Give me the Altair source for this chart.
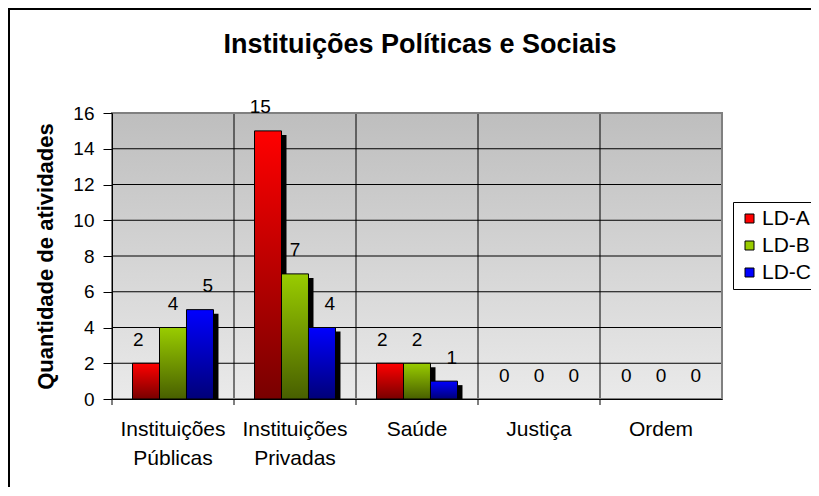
import altair as alt
import pandas as pd

# ---- data ----
categories = ["Instituições Públicas", "Instituições Privadas", "Saúde", "Justiça", "Ordem"]
series = ["LD-A", "LD-B", "LD-C"]
ld_a = [2, 15, 2, 0, 0]
ld_b = [4, 7, 2, 0, 0]
ld_c = [5, 4, 1, 0, 0]
y_ticks = [0, 2, 4, 6, 8, 10, 12, 14, 16]
title_text = "Instituições Políticas e Sociais"
y_title = "Quantidade de atividades"

rows = []
for s, vals in zip(series, [ld_a, ld_b, ld_c]):
    for c, v in zip(categories, vals):
        rows.append({"categoria": c, "serie": s, "valor": v})
df = pd.DataFrame(rows)

W, H = 610, 286
BAND = W / len(categories)
FONT = "Liberation Sans"

def grad(top, bottom):
    return alt.Gradient(gradient="linear", x1=0, x2=0, y1=0, y2=1,
                        stops=[alt.GradientStop(offset=0, color=top),
                               alt.GradientStop(offset=1, color=bottom)])

bar_grads = {
    "LD-A": grad("#FF0000", "#780000"),
    "LD-B": grad("#99CC00", "#485F00"),
    "LD-C": grad("#0000FF", "#000078"),
}
solid = ["#FF0000", "#99CC00", "#0000FF"]

x_axis = alt.Axis(title=None, labelAngle=0, labelExpr="split(datum.label, ' ')",
                  labelFontSize=21, labelLineHeight=29, labelPadding=19,
                  ticks=False, tickSize=0, domainColor="black", domainWidth=1,
                  labelColor="black", zindex=1)
x_scale = alt.Scale(domain=categories, paddingInner=0, paddingOuter=0)
X = alt.X("categoria:N", sort=categories, scale=x_scale, axis=x_axis)
XO = alt.XOffset("serie:N", sort=series,
                 scale=alt.Scale(domain=series, range=[0, BAND],
                                 paddingInner=0, paddingOuter=0.76))
XO_shadow = alt.XOffset("serie:N", sort=series,
                        scale=alt.Scale(domain=series, range=[5, BAND + 5],
                                        paddingInner=0, paddingOuter=0.76))
Y = alt.Y("valor:Q", scale=alt.Scale(domain=[0, 16], nice=False, zero=True),
          axis=alt.Axis(title=y_title, values=y_ticks, grid=False, tickSize=9,
                        tickColor="black", domainColor="black", labelColor="black",
                        labelFontSize=19, labelPadding=9, titleFontSize=22,
                        titleFontWeight="bold", titleColor="black", titlePadding=15,
                        zindex=1))

one = pd.DataFrame({"k": [0]})

background = alt.Chart(one).mark_rect(
    fill=grad("#BEBEBE", "#EAEAEA")
).encode(x=alt.value(0), x2=alt.value(W), y=alt.value(0), y2=alt.value(H))

hgrid = alt.Chart(pd.DataFrame({"valor": y_ticks[1:-1]})).mark_rule(
    color="black", strokeWidth=1
).encode(y=Y)

vgrid = alt.Chart(pd.DataFrame({"categoria": categories})).mark_rule(
    color="black", strokeWidth=1, y2Offset=6
).encode(x=alt.X("categoria:N", sort=categories, bandPosition=0,
                 scale=x_scale, axis=x_axis),
         y=alt.value(0), y2=alt.value(H))

frame = alt.Chart(one).mark_rect(
    fillOpacity=0, stroke="#808080", strokeWidth=2
).encode(x=alt.value(0), x2=alt.value(W), y=alt.value(0), y2=alt.value(H))

nonzero = df[df["valor"] > 0]
shadow = alt.Chart(nonzero).mark_bar(
    color="black", yOffset=4, y2Offset=4, clip=True
).encode(x=X, xOffset=XO_shadow, y=Y)

bar_layers = []
for s in series:
    bar_layers.append(
        alt.Chart(nonzero[nonzero["serie"] == s]).mark_bar(
            fill=bar_grads[s], stroke="black", strokeWidth=1
        ).encode(x=X, xOffset=XO, y=Y)
    )

labels = alt.Chart(df).mark_text(
    fontSize=19, baseline="middle", dy=-23.5, color="black"
).encode(x=X, xOffset=XO, y=Y, text="valor:Q")

legend_layer = alt.Chart(df).mark_square(opacity=0).encode(
    x=X, xOffset=XO, y=Y,
    color=alt.Color("serie:N", sort=series,
                    scale=alt.Scale(domain=series, range=solid),
                    legend=alt.Legend(title=None, orient="none", legendX=621, legendY=89,
                                      strokeColor="black", fillColor="white", padding=6,
                                      symbolType="square", symbolSize=81,
                                      symbolStrokeColor="black", symbolStrokeWidth=1,
                                      symbolOpacity=1, labelFontSize=21, labelOffset=2,
                                      labelColor="black", rowPadding=5))
)

title = alt.Chart(pd.DataFrame({"t": [title_text]})).mark_text(
    fontSize=27, fontWeight="bold", baseline="alphabetic", align="center", color="black"
).encode(x=alt.value(W / 2 + 3), y=alt.value(-60), text="t:N")

# outer chart-area border (continues past the right and bottom edges, as in the reference)
border = alt.Chart(one).mark_rect(
    fillOpacity=0, stroke="black", strokeWidth=2
).encode(x=alt.value(-103), x2=alt.value(760), y=alt.value(-104), y2=alt.value(420))

chart = alt.layer(
    background, hgrid, vgrid, frame, shadow, *bar_layers, labels, legend_layer,
    title, border
).resolve_scale(xOffset="independent").properties(
    width=W, height=H,
    autosize=alt.AutoSizeParams(type="none"),
    padding={"left": 104, "top": 105, "right": 89, "bottom": 88},
).configure(font=FONT).configure_view(stroke=None)

chart.save("out.html", embed_options={"renderer": "svg", "actions": False})
